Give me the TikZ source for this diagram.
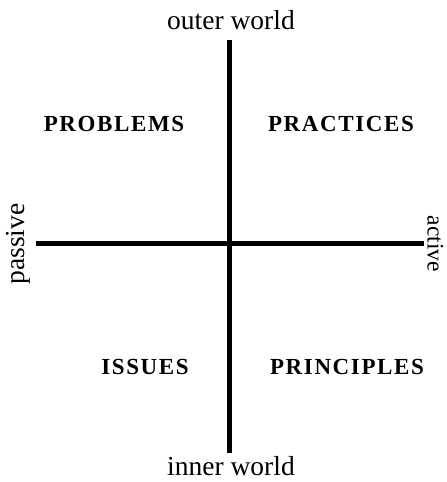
\documentclass[tikz,border=0pt]{standalone}
\usepackage{fontspec}
\setmainfont{Liberation Serif}

\begin{document}
\begin{tikzpicture}[
    x=1pt,
    y=-1pt,
    axis/.style={line width=5pt},
    quad/.style={font=\fontsize{23}{23}\selectfont\bfseries\addfontfeatures{LetterSpace=7}},
    pole/.style={font=\fontsize{27.5}{27.5}\selectfont, inner sep=0pt},
    side/.style={pole, anchor=base, text height=14pt, text depth=5pt}
]

% page frame
\useasboundingbox (0,0) rectangle (447,482);

% ---------------- axes ----------------
\coordinate (top)    at (229,40);
\coordinate (bottom) at (229,453);
\coordinate (left)   at (36,243);
\coordinate (right)  at (424,243);

\draw[axis] (left) -- (right);
\draw[axis] (top) -- (bottom);

% ---------------- axis ends ----------------
\node[pole] (outer)   at (231,20)  {outer world};
\node[pole] (inner)   at (231,466) {inner world};
\node[side, rotate=90] (passive) at (24,244)  {passive};
\node[side, rotate=-90, font=\fontsize{23.5}{23.5}\selectfont] (active) at (427.5,244) {active};

% ---------------- quadrants ----------------
\node[quad] (problems)   at (114,124) {PROBLEMS};
\node[quad] (practices)  at (341,124) {PRACTICES};
\node[quad] (issues)     at (145,367) {ISSUES};
\node[quad] (principles) at (347,367) {PRINCIPLES};

\end{tikzpicture}
\end{document}
